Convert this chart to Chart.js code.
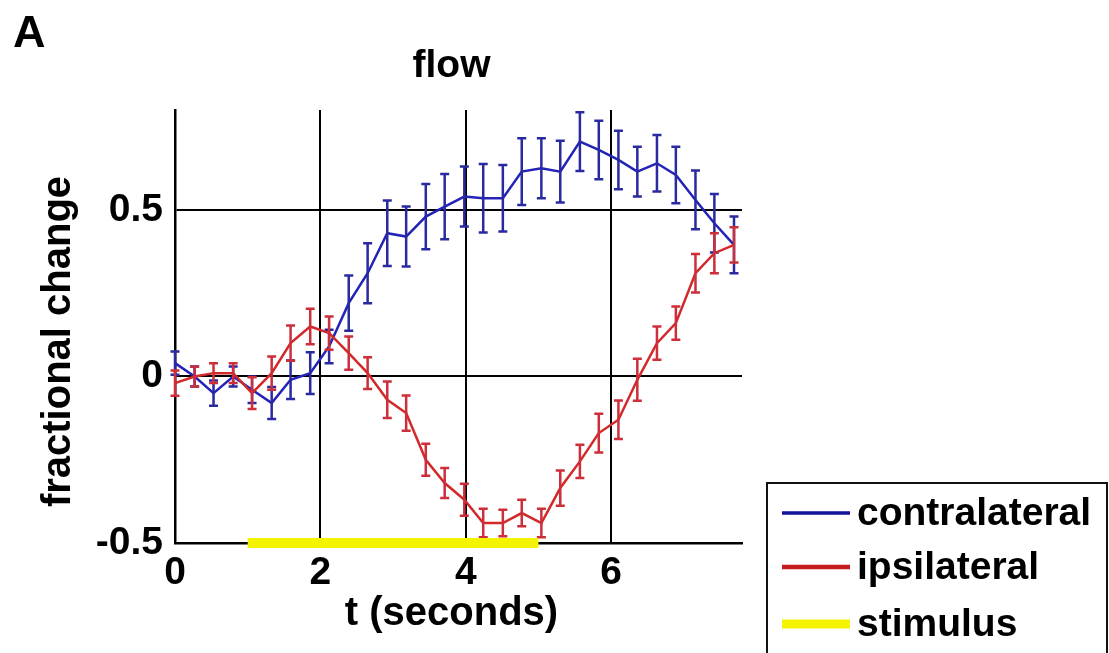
<!DOCTYPE html>
<html>
<head>
<meta charset="utf-8">
<script src="https://cdn.jsdelivr.net/npm/chart.js@4.4.1/dist/chart.umd.min.js"></script>
<style>
html,body{margin:0;padding:0;background:#fff;}
canvas{display:block;}
</style>
</head>
<body>
<canvas id="c" width="1109" height="653" style="width:1109px;height:653px"></canvas>
<script>
// ---- data ----
const times = [0.00, 0.27, 0.53, 0.80, 1.06, 1.33, 1.59, 1.86, 2.12, 2.39,
               2.65, 2.92, 3.18, 3.45, 3.71, 3.98, 4.24, 4.51, 4.77, 5.04,
               5.30, 5.57, 5.83, 6.10, 6.36, 6.63, 6.89, 7.16, 7.42, 7.69];
const contraMean = [0.04, 0.00, -0.05, 0.00, -0.04, -0.08, -0.01, 0.01, 0.09, 0.22,
                    0.31, 0.43, 0.42, 0.48, 0.51, 0.54, 0.535, 0.535, 0.615, 0.625,
                    0.615, 0.705, 0.68, 0.65, 0.615, 0.64, 0.605, 0.53, 0.46, 0.395];
const contraErr  = [0.035, 0.03, 0.038, 0.03, 0.04, 0.048, 0.058, 0.063, 0.05, 0.083,
                    0.09, 0.098, 0.09, 0.098, 0.098, 0.09, 0.103, 0.10, 0.10, 0.09,
                    0.093, 0.088, 0.088, 0.088, 0.075, 0.085, 0.085, 0.088, 0.088, 0.085];
const ipsiMean   = [-0.02, 0.00, 0.01, 0.01, -0.05, 0.01, 0.10, 0.15, 0.13, 0.07,
                    0.01, -0.07, -0.11, -0.25, -0.32, -0.37, -0.44, -0.44, -0.41, -0.44,
                    -0.335, -0.255, -0.17, -0.13, -0.01, 0.10, 0.16, 0.31, 0.37, 0.395];
const ipsiErr    = [0.038, 0.03, 0.03, 0.03, 0.048, 0.05, 0.053, 0.053, 0.05, 0.05,
                    0.048, 0.055, 0.053, 0.048, 0.045, 0.048, 0.043, 0.04, 0.04, 0.043,
                    0.053, 0.05, 0.058, 0.058, 0.063, 0.05, 0.05, 0.058, 0.06, 0.053];
const stimulusTimes = [1, 5];
const stimulusLevel = [-0.5, -0.5];
const xTicks = [0, 2, 4, 6];
const yTicks = [-0.5, 0, 0.5];
const xRange = [0, 7.8];
const yRange = [-0.5, 0.8];
const seriesLabels = ['contralateral', 'ipsilateral', 'stimulus'];
const titleText = 'flow';
const xTitle = 't (seconds)';
const yTitle = 'fractional change';
const panelLabel = 'A';

// ---- styles ----
const FONT = '"Liberation Sans", Arial, Helvetica, sans-serif';
const BLUE = '#2323b8';
const RED = '#d22a2a';
const YELLOW = '#f4f400';

const errorBarPlugin = {
  id: 'errorBars',
  afterDatasetDraw(chart, args) {
    const ds = chart.data.datasets[args.index];
    if (!ds.errors) return;
    const ctx = chart.ctx, xs = chart.scales.x, ys = chart.scales.y;
    ctx.save();
    ctx.strokeStyle = ds.errorColor || ds.borderColor;
    ctx.lineWidth = 2.5;
    const cap = 4.5;
    ds.data.forEach((p, i) => {
      const e = ds.errors[i];
      const x = xs.getPixelForValue(p.x);
      const y1 = ys.getPixelForValue(p.y - e);
      const y2 = ys.getPixelForValue(p.y + e);
      ctx.beginPath();
      ctx.moveTo(x, y1); ctx.lineTo(x, y2);
      ctx.moveTo(x - cap, y1); ctx.lineTo(x + cap, y1);
      ctx.moveTo(x - cap, y2); ctx.lineTo(x + cap, y2);
      ctx.stroke();
    });
    ctx.restore();
  }
};

const textPlugin = {
  id: 'texts',
  afterDraw(chart) {
    const ctx = chart.ctx, a = chart.chartArea;
    ctx.save();
    ctx.fillStyle = '#000';
    // panel label
    ctx.font = 'bold 45px ' + FONT;
    ctx.textAlign = 'left'; ctx.textBaseline = 'alphabetic';
    ctx.fillText(panelLabel, 13, 47);
    // title
    ctx.font = 'bold 39px ' + FONT;
    ctx.textAlign = 'center';
    ctx.fillText(titleText, (a.left + a.right) / 2 - 7, 77);
    // x title
    ctx.font = 'bold 40px ' + FONT;
    ctx.fillText(xTitle, (a.left + a.right) / 2 - 7, 625);
    // y title
    ctx.save();
    ctx.translate(70, (a.top + a.bottom) / 2 + 15);
    ctx.rotate(-Math.PI / 2);
    ctx.fillText(yTitle, 0, 0);
    ctx.restore();
    // legend
    const lx = 767, ly = 483, lw = 340, lh = 200;
    ctx.fillStyle = '#fff';
    ctx.fillRect(lx, ly, lw, lh);
    ctx.strokeStyle = '#111';
    ctx.lineWidth = 2;
    ctx.strokeRect(lx, ly, lw, lh);
    const rows = [513, 567, 624];
    const widths = [3.5, 4.5, 9];
    chart.data.datasets.forEach((ds, i) => {
      ctx.strokeStyle = ds.legendColor || ds.borderColor;
      ctx.lineWidth = widths[i];
      ctx.beginPath();
      ctx.moveTo(782, rows[i]); ctx.lineTo(850, rows[i]);
      ctx.stroke();
      ctx.fillStyle = '#000';
      ctx.textAlign = 'left';
      ctx.textBaseline = 'alphabetic';
      ctx.font = 'bold 39px ' + FONT;
      ctx.fillText(ds.label, 857, rows[i] + 12);
    });
    ctx.restore();
  }
};

const toPoints = (xs, ys) => xs.map((x, i) => ({x: x, y: ys[i]}));

new Chart(document.getElementById('c'), {
  type: 'line',
  data: {
    datasets: [
      {label: seriesLabels[0], data: toPoints(times, contraMean), errors: contraErr,
       borderColor: BLUE, errorColor: '#2a2aa0', legendColor: '#14149a', borderWidth: 2.5, pointRadius: 0, order: 2, clip: false},
      {label: seriesLabels[1], data: toPoints(times, ipsiMean), errors: ipsiErr,
       borderColor: RED, errorColor: '#cc2f3a', legendColor: '#c41c1c', borderWidth: 2.5, pointRadius: 0, order: 1, clip: false},
      {label: seriesLabels[2], data: toPoints(stimulusTimes, stimulusLevel),
       borderColor: YELLOW, borderWidth: 10, pointRadius: 0, order: 0, clip: false, borderCapStyle: 'butt'}
    ]
  },
  options: {
    responsive: false,
    animation: false,
    devicePixelRatio: 1,
    layout: {padding: {left: 0, top: 110, right: 367, bottom: 0}},
    plugins: {legend: {display: false}, title: {display: false}, tooltip: {enabled: false}},
    scales: {
      x: {
        type: 'linear', min: xRange[0], max: xRange[1],
        afterBuildTicks: s => { s.ticks = xTicks.map(v => ({value: v})); },
        afterFit: s => { s.height = 110; },
        grid: {color: '#000', lineWidth: 2, drawTicks: false},
        border: {display: true, color: '#000', width: 2.5},
        ticks: {color: '#000', font: {family: FONT, size: 39, weight: 'bold'}, padding: 7, maxRotation: 0,
                callback: v => String(v)}
      },
      y: {
        type: 'linear', min: yRange[0], max: yRange[1],
        afterBuildTicks: s => { s.ticks = yTicks.map(v => ({value: v})); },
        afterFit: s => { s.width = 175; },
        grid: {color: '#000', lineWidth: 2, drawTicks: false},
        border: {display: true, color: '#000', width: 2.5},
        ticks: {color: '#000', font: {family: FONT, size: 39, weight: 'bold'}, padding: 12,
                callback: v => String(v)}
      }
    }
  },
  plugins: [errorBarPlugin, textPlugin]
});
</script>
</body>
</html>
